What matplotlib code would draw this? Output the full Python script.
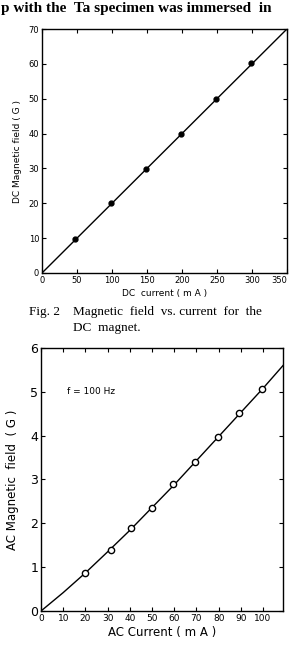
import matplotlib
matplotlib.use("Agg")
import matplotlib.pyplot as plt

# Fig. 2 : DC magnet
dc_current = [47, 98, 148, 198, 248, 298]
dc_field = [9.7, 20.2, 29.8, 39.8, 50.0, 60.2]
dc_line_x = [0, 350]
dc_line_y = [0, 70]

# AC magnet, f = 100 Hz
ac_current = [20, 31.5, 40.5, 50, 59.5, 69.2, 79.6, 89.3, 99.5]
ac_field = [0.87, 1.39, 1.89, 2.36, 2.89, 3.41, 3.98, 4.52, 5.07]
ac_curve_x = [0, 10, 20, 30, 40, 50, 60, 70, 80, 90, 100, 109]
ac_curve_y = [0, 0.42, 0.87, 1.35, 1.84, 2.36, 2.88, 3.43, 3.98, 4.53, 5.08, 5.6]

dc_xticks = [0, 50, 100, 150, 200, 250, 300, 350]
dc_yticks = [0, 10, 20, 30, 40, 50, 60, 70]
ac_xticks = [0, 10, 20, 30, 40, 50, 60, 70, 80, 90, 100]
ac_yticks = [0, 1, 2, 3, 4, 5, 6]

serif = "Liberation Serif"

fig = plt.figure(figsize=(2.93, 6.52), dpi=100)

fig.text(0.003, 0.997, "p with the  Ta specimen was immersed  in", fontsize=11,
         family=serif, weight="bold", ha="left", va="top")

# top plot (DC)
ax1 = fig.add_axes([0.1433, 0.5813, 0.836, 0.3742])
ax1.plot(dc_line_x, dc_line_y, color="black", lw=1.0)
ax1.plot(dc_current, dc_field, "o", color="black", ms=3.5)
ax1.set_xlim(0, 350)
ax1.set_ylim(0, 70)
ax1.set_xticks(dc_xticks)
ax1.set_yticks(dc_yticks)
ax1.tick_params(direction="in", top=True, right=True, labelsize=6, length=3, width=0.8, pad=2)
ax1.get_xticklabels()[-1].set_horizontalalignment("right")
ax1.set_xlabel("DC  current ( m A )", fontsize=6.5, labelpad=3)
ax1.set_ylabel("DC Magnetic field ( G )", fontsize=6.5, labelpad=5)
for s in ax1.spines.values():
    s.set_linewidth(1.0)

fig.text(0.10, 0.5215, "Fig. 2", fontsize=9.5, family=serif, ha="left", va="center")
fig.text(0.25, 0.5215, "Magnetic  field  vs. current  for  the", fontsize=9.5,
         family=serif, ha="left", va="center")
fig.text(0.25, 0.497, "DC  magnet.", fontsize=9.5, family=serif, ha="left", va="center")

# bottom plot (AC)
ax2 = fig.add_axes([0.14, 0.0629, 0.826, 0.4034])
ax2.plot(ac_curve_x, ac_curve_y, color="black", lw=1.0)
ax2.plot(ac_current, ac_field, "o", mfc="white", mec="black", mew=1.0, ms=4.5)
ax2.set_xlim(0, 109)
ax2.set_ylim(0, 6)
ax2.set_xticks(ac_xticks)
ax2.set_yticks(ac_yticks)
ax2.tick_params(direction="in", top=True, right=True, length=3, width=0.8, pad=2)
ax2.tick_params(axis="x", labelsize=6.5)
ax2.tick_params(axis="y", labelsize=9)
ax2.set_xlabel("AC Current ( m A )", fontsize=8.5, labelpad=2)
ax2.set_ylabel("AC Magnetic  field  ( G )", fontsize=8.5, labelpad=8)
ax2.text(11.5, 5.0, "f = 100 Hz", fontsize=6.5, ha="left", va="center")
for s in ax2.spines.values():
    s.set_linewidth(1.0)

fig.savefig("out.png", dpi=100)
